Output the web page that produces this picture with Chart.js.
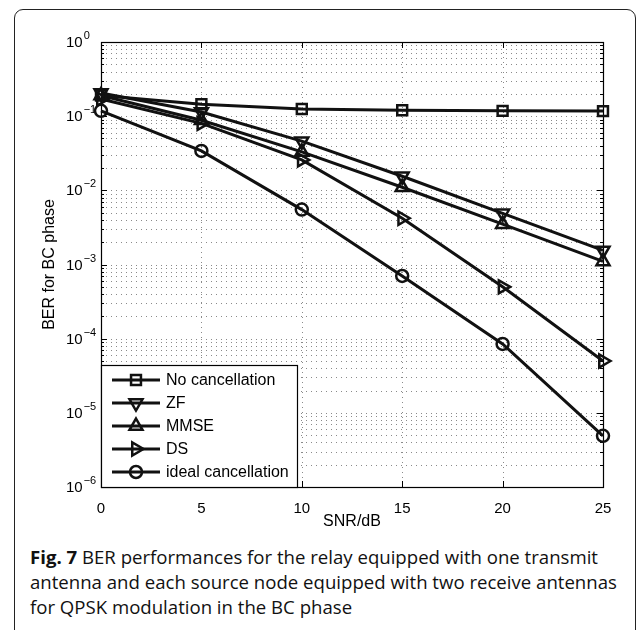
<!DOCTYPE html>
<html>
<head>
<meta charset="utf-8">
<script src="https://cdn.jsdelivr.net/npm/chart.js@4.4.0/dist/chart.umd.min.js"></script>
<style>
  html, body { margin: 0; padding: 0; background: #fff; }
  body { width: 637px; height: 630px; overflow: hidden; position: relative; }
  #frame {
    position: absolute; left: 14px; top: 9px; width: 622px; height: 700px;
    border: 1.5px solid #222; border-radius: 9px; box-sizing: border-box;
  }
  #wrap { position: absolute; left: 0; top: 0; width: 637px; height: 540px; }
  #caption {
    position: absolute; left: 30px; top: 544px;
    font-family: "Open Sans", sans-serif; font-size: 18.6px; line-height: 25px; color: #111;
    white-space: nowrap;
  }
</style>
</head>
<body>
<div id="frame"></div>
<div id="wrap"><canvas id="ber-chart" width="637" height="540"></canvas></div>
<div id="caption"><b>Fig. 7</b> BER performances for the relay equipped with one transmit<br>antenna and each source node equipped with two receive antennas<br>for QPSK modulation in the BC phase</div>

<script>
// SNR points (dB)
const snr = [0, 5, 10, 15, 20, 25];

// BER
const noCancellation = [0.19, 0.145, 0.125, 0.12, 0.118, 0.117];
const zf = [0.205, 0.114, 0.046, 0.0155, 0.0049, 0.00155];
const mmse = [0.19, 0.088, 0.033, 0.011, 0.0035, 0.0011];
const ds = [0.17, 0.08, 0.0257, 0.0042, 0.0005, 0.00005];
const idealCancellation = [0.118, 0.034, 0.0055, 0.0007, 0.000085, 0.0000049];

const seriesNames = ["No cancellation", "ZF", "MMSE", "DS", "ideal cancellation"];
const yExponents = [0, -1, -2, -3, -4, -5, -6];
const xTicks = [0, 5, 10, 15, 20, 25];

const FONT = '"Liberation Sans", Arial, sans-serif';

// marker look per series (MATLAB style, hollow)
const markers = [
  { style: "rect", radius: 7, rotation: 0 },
  { style: "triangle", radius: 7.5, rotation: 180 },
  { style: "triangle", radius: 7.5, rotation: 0 },
  { style: "triangle", radius: 7.5, rotation: 90 },
  { style: "circle", radius: 6, rotation: 0 },
];

function drawMarker(ctx, m, x, y) {
  const r = m.radius;
  const rad = (m.rotation * Math.PI) / 180;
  ctx.beginPath();
  if (m.style === "rect") {
    const s = Math.SQRT1_2 * r;
    ctx.rect(x - s, y - s, 2 * s, 2 * s);
  } else if (m.style === "triangle") {
    let a = rad;
    ctx.moveTo(x + Math.sin(a) * r, y - Math.cos(a) * r);
    a += (2 * Math.PI) / 3;
    ctx.lineTo(x + Math.sin(a) * r, y - Math.cos(a) * r);
    a += (2 * Math.PI) / 3;
    ctx.lineTo(x + Math.sin(a) * r, y - Math.cos(a) * r);
    ctx.closePath();
  } else {
    ctx.arc(x, y, r, 0, Math.PI * 2);
  }
  ctx.stroke();
}

// all log ticks 1..9 x 10^e, used for the dotted grid and tick marks
function logTickValues() {
  const vals = [];
  for (let e = -6; e < 0; e++) {
    for (let k = 1; k <= 9; k++) vals.push(k * Math.pow(10, e));
  }
  vals.push(1);
  return vals;
}

const matlabAxes = {
  id: "matlabAxes",
  beforeDatasetsDraw(chart) {
    const { ctx, chartArea: { left, right, top, bottom } } = chart;
    const xs = chart.scales.x;
    const ys = chart.scales.y;
    ctx.save();

    // dotted grid
    ctx.strokeStyle = "#8a8a8a";
    ctx.lineWidth = 1;
    ctx.setLineDash([1, 4]);
    logTickValues().forEach((v) => {
      const py = Math.round(ys.getPixelForValue(v)) + 0.5;
      if (py <= top + 1 || py >= bottom - 1) return;
      ctx.beginPath();
      ctx.moveTo(left, py);
      ctx.lineTo(right, py);
      ctx.stroke();
    });
    xTicks.slice(1, -1).forEach((v) => {
      const px = Math.round(xs.getPixelForValue(v)) + 0.5;
      ctx.beginPath();
      ctx.moveTo(px, top);
      ctx.lineTo(px, bottom);
      ctx.stroke();
    });
    ctx.setLineDash([]);

    // inward tick marks
    ctx.strokeStyle = "#000";
    logTickValues().forEach((v, i) => {
      const py = Math.round(ys.getPixelForValue(v)) + 0.5;
      const len = i % 9 === 0 ? 6 : 3;
      ctx.beginPath();
      ctx.moveTo(left, py);
      ctx.lineTo(left + len, py);
      ctx.moveTo(right, py);
      ctx.lineTo(right - len, py);
      ctx.stroke();
    });
    xTicks.forEach((v) => {
      const px = Math.round(xs.getPixelForValue(v)) + 0.5;
      ctx.beginPath();
      ctx.moveTo(px, bottom);
      ctx.lineTo(px, bottom - 6);
      ctx.moveTo(px, top);
      ctx.lineTo(px, top + 6);
      ctx.stroke();
    });

    // axes box
    ctx.lineWidth = 1.2;
    ctx.strokeRect(Math.round(left) + 0.5, Math.round(top) + 0.5,
      Math.round(right - left), Math.round(bottom - top));

    // y tick labels 10^e
    ctx.fillStyle = "#000";
    ctx.textBaseline = "middle";
    ctx.textAlign = "left";
    yExponents.forEach((e) => {
      const py = ys.getPixelForValue(Math.pow(10, e));
      ctx.font = "15px " + FONT;
      ctx.fillText("10", 66, py + 1);
      const w = ctx.measureText("10").width;
      ctx.font = "11px " + FONT;
      ctx.fillText(e < 0 ? "\u2212" + Math.abs(e) : String(e), 66 + w + 1, py - 6);
    });
    ctx.restore();
  },
  afterDatasetsDraw(chart) {
    const { ctx, chartArea: { left, bottom } } = chart;
    ctx.save();
    // legend box in lower-left corner of the axes
    const boxL = Math.round(left) + 0.5;
    const boxT = 365.5;
    const boxR = 297.5;
    const boxB = Math.round(bottom) + 0.5;
    ctx.fillStyle = "#fff";
    ctx.fillRect(boxL, boxT, boxR - boxL, boxB - boxT);
    ctx.strokeStyle = "#000";
    ctx.lineWidth = 1.2;
    ctx.strokeRect(boxL, boxT, boxR - boxL, boxB - boxT);

    const rowY = [380, 403, 426, 449, 472];
    chart.data.datasets.forEach((d, i) => {
      const y = rowY[i];
      ctx.strokeStyle = "#111";
      ctx.lineWidth = 3;
      ctx.beginPath();
      ctx.moveTo(112, y);
      ctx.lineTo(160, y);
      ctx.stroke();
      ctx.lineWidth = 2.5;
      drawMarker(ctx, markers[i], 136, y);
      ctx.fillStyle = "#000";
      ctx.font = "16px " + FONT;
      ctx.textBaseline = "middle";
      ctx.textAlign = "left";
      ctx.fillText(d.label, 166, y + 1);
    });
    ctx.restore();
  },
};

function makeDataset(i, values) {
  const m = markers[i];
  return {
    label: seriesNames[i],
    data: snr.map((x, k) => ({ x: x, y: values[k] })),
    borderColor: "#111",
    borderWidth: 3,
    pointStyle: m.style,
    pointRadius: m.radius,
    pointRotation: m.rotation,
    pointBorderWidth: 2.5,
    pointBorderColor: "#111",
    pointBackgroundColor: "rgba(0,0,0,0)",
    tension: 0,
    clip: false,
  };
}

new Chart(document.getElementById("ber-chart").getContext("2d"), {
  type: "line",
  data: {
    datasets: [
      makeDataset(0, noCancellation),
      makeDataset(1, zf),
      makeDataset(2, mmse),
      makeDataset(3, ds),
      makeDataset(4, idealCancellation),
    ],
  },
  options: {
    responsive: false,
    animation: false,
    devicePixelRatio: 1,
    layout: { padding: { left: 0, top: 42, right: 34, bottom: 0 } },
    plugins: { legend: { display: false }, tooltip: { enabled: false } },
    scales: {
      x: {
        type: "linear",
        min: 0,
        max: 25,
        afterBuildTicks: (s) => { s.ticks = xTicks.map((v) => ({ value: v })); },
        afterFit: (s) => { s.height = 53; },
        ticks: { font: { size: 15, family: FONT }, color: "#000", padding: 5, maxRotation: 0 },
        grid: { display: false },
        border: { display: false },
        title: {
          display: true,
          text: "SNR/dB",
          font: { size: 16, family: FONT },
          color: "#000",
          padding: { top: 0, bottom: 9 },
        },
      },
      y: {
        type: "logarithmic",
        min: 1e-6,
        max: 1,
        afterFit: (s) => { s.width = 101; },
        ticks: { display: false },
        grid: { display: false },
        border: { display: false },
        title: {
          display: true,
          text: "BER for BC phase",
          font: { size: 16, family: FONT },
          color: "#000",
          padding: { top: 40, bottom: 0 },
        },
      },
    },
  },
  plugins: [matlabAxes],
});
</script>
</body>
</html>
